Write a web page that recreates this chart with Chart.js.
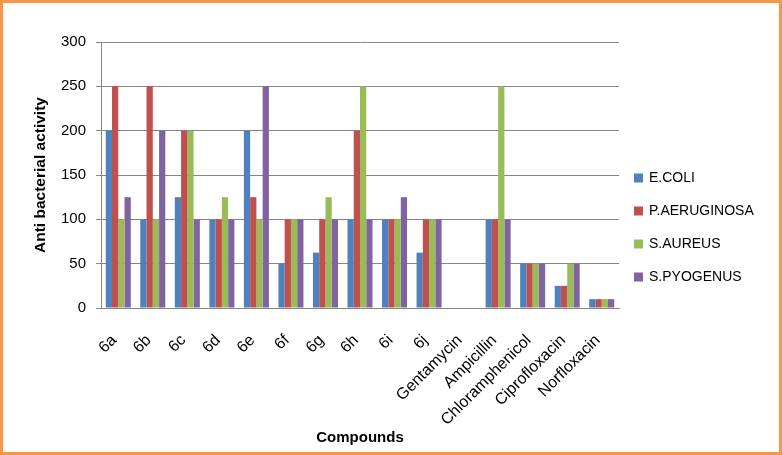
<!DOCTYPE html>
<html>
<head>
<meta charset="utf-8">
<script src="https://cdn.jsdelivr.net/npm/chart.js@4"></script>
<style>
  html, body { margin: 0; padding: 0; background: #fff; }
  #frame { position: relative; width: 782px; height: 455px; box-sizing: border-box; border: 3px solid #F79646; background: #fff; }
  #wrap { position: absolute; left: 0; top: 0; width: 776px; height: 449px; }
</style>
</head>
<body>
<div id="frame"><div id="wrap"><canvas id="c"></canvas></div></div>
<script>
const categories = ['6a','6b','6c','6d','6e','6f','6g','6h','6i','6j','Gentamycin','Ampicillin','Chloramphenicol','Ciprofloxacin','Norfloxacin'];
const seriesNames = ['E.COLI','P.AERUGINOSA','S.AUREUS','S.PYOGENUS'];
const eColi       = [200,100,125,100,200, 50,62.5,100,100,62.5,0,100,50,25,10];
const pAeruginosa = [250,250,200,100,125,100,100,200,100,100,0,100,50,25,10];
const sAureus     = [100,100,200,125,100,100,125,250,100,100,0,250,50,50,10];
const sPyogenus   = [125,200,100,100,250,100,100,100,125,100,0,100,50,50,10];
const yTicks = [0,50,100,150,200,250,300];
const colors = ['#4F81BD','#C0504D','#9BBB59','#8064A2'];

const seriesValues = [eColi, pAeruginosa, sAureus, sPyogenus];

const legendPlugin = {
  id: 'sideLegend',
  afterDraw(chart) {
    const ctx = chart.ctx;
    ctx.save();
    ctx.font = '14px "Liberation Sans", Arial, sans-serif';
    ctx.textBaseline = 'middle';
    ctx.textAlign = 'left';
    chart.data.datasets.forEach((ds, i) => {
      const cy = 175 + i * 33;
      ctx.fillStyle = ds.backgroundColor;
      ctx.fillRect(631, cy - 4.5, 9, 9);
      ctx.fillStyle = '#000';
      ctx.fillText(ds.label, 646, cy);
    });
    ctx.restore();
  }
};

new Chart(document.getElementById('c'), {
  type: 'bar',
  data: {
    labels: categories,
    datasets: seriesNames.map((n, i) => ({
      label: n,
      data: seriesValues[i],
      backgroundColor: colors[i],
      borderWidth: 0,
      categoryPercentage: 0.725,
      barPercentage: 1.0
    }))
  },
  options: {
    responsive: true,
    maintainAspectRatio: false,
    animation: false,
    layout: { padding: { left: 0, top: 39, right: 160, bottom: 0 } },
    plugins: { legend: { display: false }, tooltip: { enabled: false } },
    scales: {
      x: {
        grid: { display: false },
        border: { display: true, color: '#868686', width: 1 },
        ticks: {
          color: '#000',
          font: { family: '"Liberation Sans", Arial, sans-serif', size: 16 },
          minRotation: 45, maxRotation: 45,
          autoSkip: false,
          padding: 15,
          labelOffset: -4
        },
        title: {
          display: true, text: 'Compounds', color: '#000',
          font: { family: '"Liberation Sans", Arial, sans-serif', size: 15, weight: 'bold' },
          padding: { top: 0, bottom: 5 }
        },
        afterFit(scale) { scale.height = 144; }
      },
      y: {
        min: 0, max: 300,
        afterBuildTicks(scale) { scale.ticks = yTicks.map(v => ({ value: v })); },
        grid: { color: '#868686', lineWidth: 1, drawTicks: true, tickLength: 5 },
        border: { display: true, color: '#868686', width: 1 },
        ticks: {
          color: '#000',
          font: { family: '"Liberation Sans", Arial, sans-serif', size: 15 },
          padding: 10
        },
        title: {
          display: true, text: 'Anti bacterial activity', color: '#000',
          font: { family: '"Liberation Sans", Arial, sans-serif', size: 15.5, weight: 'bold' },
          padding: { top: 28, bottom: 0 }
        },
        afterFit(scale) { scale.width = 98; }
      }
    }
  },
  plugins: [legendPlugin]
});
</script>
</body>
</html>
